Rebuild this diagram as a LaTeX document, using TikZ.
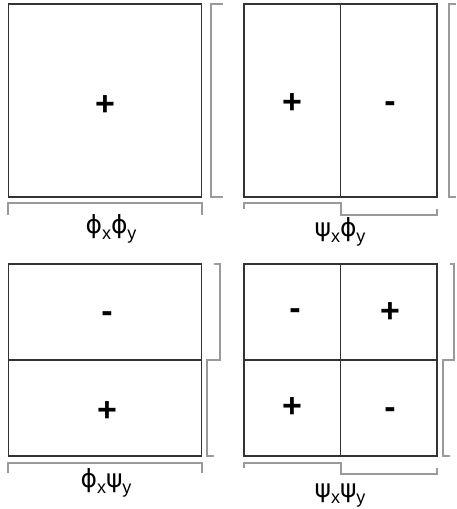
\documentclass[tikz,border=0pt]{standalone}
\usepackage{fontspec}
\setmainfont{Liberation Sans}
\newfontfamily\greekfont{DejaVu Sans}
\definecolor{boxline}{HTML}{333333}
\definecolor{brack}{HTML}{9A9A9A}
\newcommand{\sbx}[1]{\raisebox{-6pt}{\fontsize{18}{18}\selectfont #1}}
\newcommand{\phik}{{\greekfont ϕ}}
\newcommand{\psik}{{\greekfont ψ}}

\begin{document}
\begin{tikzpicture}[x=1pt,y=-1pt,
  cell/.style={draw=boxline,line width=1.3pt,minimum width=193pt,minimum height=193pt,inner sep=0pt},
  split/.style={boxline,line width=1.4pt},
  brace/.style={brack,line width=1.2pt},
  sign/.style={font=\fontsize{34}{34}\selectfont\bfseries},
  lab/.style={font=\fontsize{25}{25}\selectfont,inner sep=0pt}]
\useasboundingbox (0,0) rectangle (456,509);
% the four boxes
\node[cell] (xx) at (105,100.5) {};
\node[cell] (sx) at (340.5,100.5) {};
\node[cell,minimum height=192pt] (xs) at (105,360) {};
\node[cell,minimum height=192pt] (ss) at (340.5,360) {};
\draw[split] (sx.north) -- (sx.south);
\draw[split] (xs.west) -- (xs.east);
\draw[split] (ss.north) -- (ss.south);
\draw[split] (ss.west) -- (ss.east);
% signs
\node[sign] (p1) at (105,106) {+};
\node[sign] (p2) at (292,104) {+};
\node[sign] (m2) at (390,107) {-};
\node[sign] (m3) at (107,317) {-};
\node[sign] (p3) at (107,412) {+};
\node[sign] (m4) at (295,314) {-};
\node[sign] (p4) at (390,313) {+};
\node[sign] (p5) at (292,408) {+};
\node[sign] (m5) at (390,413) {-};
% brackets
\draw[brace] (223,4) -- (211,4) -- (211,197) -- (223,197);
\draw[brace] (8,215) -- (8,203) -- (202,203) -- (202,215);
\draw[brace] (456,4) -- (449,4) -- (449,197) -- (456,197);
\draw[brace] (244,209) -- (244,203) -- (341,203) -- (341,215) -- (437,215) -- (437,209);
\draw[brace] (214,264) -- (220,264) -- (220,360) -- (207,360) -- (207,456) -- (214,456);
\draw[brace] (8,473) -- (8,463) -- (202,463) -- (202,473);
\draw[brace] (450,264) -- (454,264) -- (454,360) -- (443,360) -- (443,456) -- (450,456);
\draw[brace] (244,468) -- (244,463) -- (341,463) -- (341,474) -- (437,474) -- (437,468);
% labels
\node[lab] (lxx) at (111,229) {\phik\sbx{x}\phik\sbx{y}};
\node[lab] (lsx) at (340,232) {\psik\sbx{x}\phik\sbx{y}};
\node[lab] (lxs) at (106,483) {\phik\sbx{x}\psik\sbx{y}};
\node[lab] (lss) at (340,496) {\psik\sbx{x}\psik\sbx{y}};
\end{tikzpicture}
\end{document}
